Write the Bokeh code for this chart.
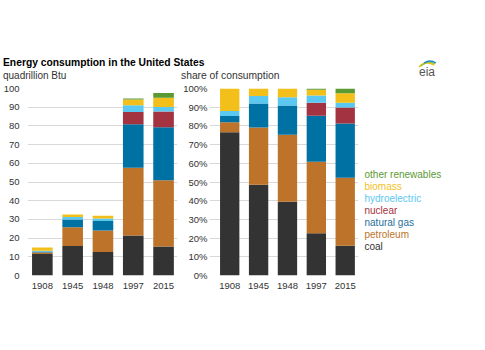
from bokeh.plotting import figure
from bokeh.layouts import row, column
from bokeh.models import ColumnDataSource, Range1d, Div, FixedTicker, SingleIntervalTicker, PrintfTickFormatter
from bokeh.embed import file_html
from bokeh.resources import INLINE
from bokeh.core.properties import value

# ---- data (quadrillion Btu) ----
years = ["1908", "1945", "1948", "1997", "2015"]
coal = [11.5, 15.8, 12.6, 21.4, 15.5]
petroleum = [0.8, 10.0, 11.5, 36.2, 35.5]
natural_gas = [0.5, 4.2, 5.0, 23.3, 28.3]
nuclear = [0.0, 0.0, 0.0, 6.6, 8.4]
hydroelectric = [0.4, 1.3, 1.4, 3.6, 2.4]
biomass = [1.8, 1.3, 1.5, 3.0, 5.0]
other_renewables = [0.0, 0.0, 0.0, 0.6, 2.5]

series_names = ["coal", "petroleum", "natural gas", "nuclear", "hydroelectric", "biomass", "other renewables"]
series_values = [coal, petroleum, natural_gas, nuclear, hydroelectric, biomass, other_renewables]
series_colors = ["#333333", "#BD7329", "#0071A3", "#A33340", "#5BC8F2", "#F2BF1B", "#5B9A33"]
legend_text_colors = ["#333333", "#BD7329", "#1F6F9C", "#A33340", "#5BC8F2", "#F2BF1B", "#5B9A33"]

FONT = "Liberation Sans"
TICK_COLOR = "#333333"
GRID_COLOR = "#d9d9d9"

xs = list(range(len(years)))
keys = ["s%d" % i for i in range(len(series_names))]
totals = [sum(v[i] for v in series_values) for i in xs]

src_abs = ColumnDataSource(dict(x=xs, **{k: v for k, v in zip(keys, series_values)}))
src_pct = ColumnDataSource(dict(x=xs, **{k: [100.0 * v[i] / totals[i] for i in xs] for k, v in zip(keys, series_values)}))

H = 268
BT, BB = 6, 75          # top / bottom borders around the plot frames
FRAME_H = H - BT - BB   # 187 px


def base_fig(width, xr, border_left, border_right):
    p = figure(width=width, height=H, output_backend="svg", toolbar_location=None,
               x_range=xr, y_range=Range1d(0, 100),
               min_border_left=border_left, min_border_right=border_right,
               min_border_top=BT, min_border_bottom=BB)
    p.outline_line_color = None
    p.background_fill_color = "white"
    p.border_fill_color = "white"
    p.xgrid.grid_line_color = None
    p.ygrid.grid_line_color = GRID_COLOR
    p.ygrid.ticker = SingleIntervalTicker(interval=10)
    p.yaxis.ticker = SingleIntervalTicker(interval=10)
    p.xaxis.ticker = FixedTicker(ticks=xs)
    p.xaxis.major_label_overrides = {i: y for i, y in enumerate(years)}
    for ax in (p.xaxis[0], p.yaxis[0]):
        ax.axis_line_color = None
        ax.major_tick_line_color = None
        ax.minor_tick_line_color = None
        ax.major_tick_out = 0
        ax.major_tick_in = 0
        ax.minor_tick_out = 0
        ax.minor_tick_in = 0
        ax.axis_label_standoff = 0
        ax.major_label_text_font = FONT
        ax.major_label_text_font_size = "9.5px"
        ax.major_label_text_color = TICK_COLOR
    p.xaxis.major_label_standoff = 7
    return p


p1 = base_fig(180, Range1d(-0.49, 4.46), 25, 3)
p1.yaxis.major_label_standoff = 8
p1.vbar_stack(keys, x="x", width=0.68, color=series_colors, line_color=None, source=src_abs)

p2 = base_fig(180, Range1d(-0.70, 4.46), 27, 2)
p2.yaxis.major_label_standoff = 2
p2.yaxis.formatter = PrintfTickFormatter(format="%d%%")
p2.vbar_stack(keys, x="x", width=0.67, color=series_colors, line_color=None, source=src_pct)

# legend panel (frame aligned with the chart frames, 1 unit = 1 px)
p3 = figure(width=125, height=H, output_backend="svg", toolbar_location=None,
            x_range=Range1d(0, 125), y_range=Range1d(0, FRAME_H),
            x_axis_type=None, y_axis_type=None,
            min_border_left=0, min_border_right=0, min_border_top=BT, min_border_bottom=BB)
p3.outline_line_color = None
p3.xgrid.grid_line_color = None
p3.ygrid.grid_line_color = None
legend_top = 100.7
legend_step = 11.95
order = list(range(len(series_names)))[::-1]
leg_src = ColumnDataSource(dict(
    x=[4] * len(order),
    y=[legend_top - legend_step * j for j in range(len(order))],
    t=[series_names[i] for i in order],
    c=[legend_text_colors[i] for i in order],
))
p3.text(x="x", y="y", text="t", text_color="c", source=leg_src,
        text_font=value(FONT), text_font_size="10px", text_baseline="middle", text_align="left")

header_html = f"""
<div style="position:relative;width:485px;height:82px;font-family:'{FONT}',Arial,sans-serif;">
  <div style="position:absolute;left:3px;top:57.5px;font-size:10.3px;font-weight:bold;color:#000;white-space:nowrap;line-height:1;">Energy consumption in the United States</div>
  <div style="position:absolute;left:3px;top:71px;font-size:10px;color:#333;white-space:nowrap;line-height:1;">quadrillion Btu</div>
  <div style="position:absolute;left:181px;top:71px;font-size:10.3px;color:#333;white-space:nowrap;line-height:1;">share of consumption</div>
  <svg style="position:absolute;left:414px;top:56px;" width="26" height="24" viewBox="0 0 26 24">
    <path d="M5 11 Q12 4 20 9" stroke="#F2BF1B" stroke-width="1.6" fill="none"/>
    <path d="M7 10 Q14 3 21 8" stroke="#8DC63F" stroke-width="1.4" fill="none"/>
    <path d="M10 7 Q16 3 22 7" stroke="#1C8BC9" stroke-width="1.3" fill="none"/>
    <text x="5" y="20" font-family="Liberation Serif" font-size="12px" fill="#555">eia</text>
  </svg>
</div>
"""
header = Div(text=header_html, width=485, height=82, margin=(0, 0, 0, 0))

layout = column(header, row(p1, p2, p3, spacing=0), spacing=0)

open("out.html", "w").write(file_html(layout, INLINE))
